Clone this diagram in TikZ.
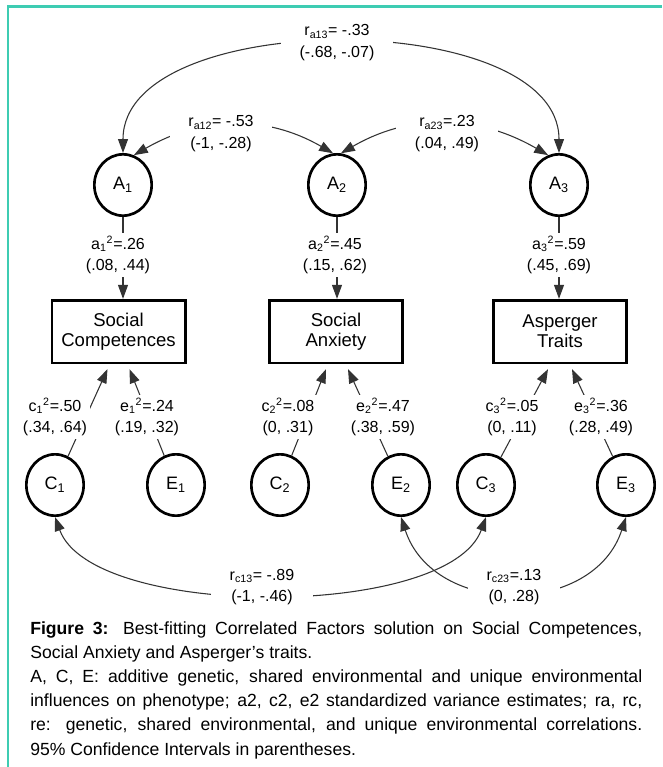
\documentclass[tikz,border=0pt]{standalone}
\usepackage{fontspec}
\setmainfont{Liberation Sans}
\usetikzlibrary{arrows.meta,shapes.geometric,calc}
\definecolor{framegreen}{RGB}{62,204,178}

\begin{document}
\begin{tikzpicture}[x=0.75pt, y=0.75pt, >={Triangle[length=10.5pt,width=7.5pt]},
  latent/.style={draw, ellipse, line width=2pt, minimum width=43pt, minimum height=46pt, inner sep=0pt, font=\fontsize{13.5}{15}\selectfont},
  pheno/.style={draw, rectangle, line width=2pt, minimum width=100pt, minimum height=47pt, align=center, font=\fontsize{13.9}{15}\selectfont},
  link/.style={draw=black!80, line width=0.8pt},
  est/.style={fill=white, align=center, inner sep=2pt, font=\fontsize{12}{16}\selectfont},
  cor/.style={est, inner xsep=14pt}]

% frame of the figure
\useasboundingbox (0,0) rectangle (662,-767);
\draw[framegreen, line width=1.6pt] (8,-767) -- (8,-6.5) -- (662,-6.5);

% Genetic factors
\node[latent] (A1) at (123,-185) {A\textsubscript{1}};
\node[latent] (A2) at (337,-185) {A\textsubscript{2}};
\node[latent] (A3) at (559,-185) {A\textsubscript{3}};

% Phenotypes
\node[pheno] (SC) at (118.5,-331.5) {Social\\Competences};
\node[pheno] (SA) at (336,-331.5) {Social\\Anxiety};
\node[pheno] (AT) at (560,-331.5) {Asperger\\Traits};

% Shared and unique environment
\node[latent] (C1) at (55,-485) {C\textsubscript{1}};
\node[latent] (E1) at (176,-485) {E\textsubscript{1}};
\node[latent] (C2) at (280,-485) {C\textsubscript{2}};
\node[latent] (E2) at (401,-485) {E\textsubscript{2}};
\node[latent] (C3) at (486,-485) {C\textsubscript{3}};
\node[latent] (E3) at (626,-485) {E\textsubscript{3}};

% Paths a
\draw[link,->] (A1) -- (A1 |- SC.north);
\draw[link,->] (A2) -- (A2 |- SA.north);
\draw[link,->] (A3) -- (A3 |- AT.north);

% Paths c and e
\draw[link,->] (C1) -- ($(SC.south)+(-11,-5)$);
\draw[link,->] (E1) -- ($(SC.south)+(11,-5)$);
\draw[link,->] (C2) -- ($(SA.south)+(-10,-5)$);
\draw[link,->] (E2) -- ($(SA.south)+(12,-5)$);
\draw[link,->] (C3) -- ($(AT.south)+(-12,-5)$);
\draw[link,->] (E3) -- ($(AT.south)+(12,-5)$);

% Correlations
\draw[link,<->] (A1.70) to[out=30,in=150] (A2.97);
\draw[link,<->] (A2.83) to[out=30,in=150] (A3.110);
\draw[link,<->] (A1.north) to[out=90,in=90,looseness=0.86] (A3.north);
\draw[link,<->] (C1.south) to[out=-70,in=-110,looseness=0.65] (C3.south);
\draw[link,<->] (E2.south) to[out=-72,in=-108,looseness=1.2] (E3.south);

% Estimates
\node[est] (a1) at (118,-255) {a\textsubscript{1}\textsuperscript{2}=.26\\(.08, .44)};
\node[est] (a2) at (335,-255) {a\textsubscript{2}\textsuperscript{2}=.45\\(.15, .62)};
\node[est] (a3) at (559,-255) {a\textsubscript{3}\textsuperscript{2}=.59\\(.45, .69)};
\node[est] (c1) at (55,-417) {c\textsubscript{1}\textsuperscript{2}=.50\\(.34, .64)};
\node[est] (e1) at (147,-417) {e\textsubscript{1}\textsuperscript{2}=.24\\(.19, .32)};
\node[est] (c2) at (288,-417) {c\textsubscript{2}\textsuperscript{2}=.08\\(0, .31)};
\node[est] (e2) at (383,-417) {e\textsubscript{2}\textsuperscript{2}=.47\\(.38, .59)};
\node[est] (c3) at (512,-417) {c\textsubscript{3}\textsuperscript{2}=.05\\(0, .11)};
\node[est] (e3) at (601,-417) {e\textsubscript{3}\textsuperscript{2}=.36\\(.28, .49)};

% Correlation labels
\node[cor] (ra13) at (337,-42.5) {r\textsubscript{a13}= -.33\\(-.68, -.07)};
\node[cor] (ra12) at (221,-133.5) {r\textsubscript{a12}= -.53\\(-1, -.28)};
\node[cor] (ra23) at (447,-133.5) {r\textsubscript{a23}=.23\\(.04, .49)};
\node[cor] (rc13) at (262,-587) {r\textsubscript{c13}= -.89\\(-1, -.46)};
\node[cor] (rc23) at (514,-587) {r\textsubscript{c23}=.13\\(0, .28)};

% Caption
\node[anchor=north west, inner sep=0pt, text width=459pt, align=justify,
  font=\fontsize{13.2}{18.15}\selectfont] (cap) at (30,-621)
  {\noindent\sloppy\hyphenpenalty=10000 \textbf{Figure 3:} Best-fitting Correlated Factors solution on Social Competences,\linebreak
   Social Anxiety and Asperger’s traits.\\
   A, C, E: additive genetic, shared environmental and unique environmental\linebreak
   influences on phenotype; a2, c2, e2 standardized variance estimates; ra, rc,\linebreak
   re: genetic, shared environmental, and unique environmental correlations.\linebreak
   95\% Confidence Intervals in parentheses.};

\end{tikzpicture}
\end{document}
